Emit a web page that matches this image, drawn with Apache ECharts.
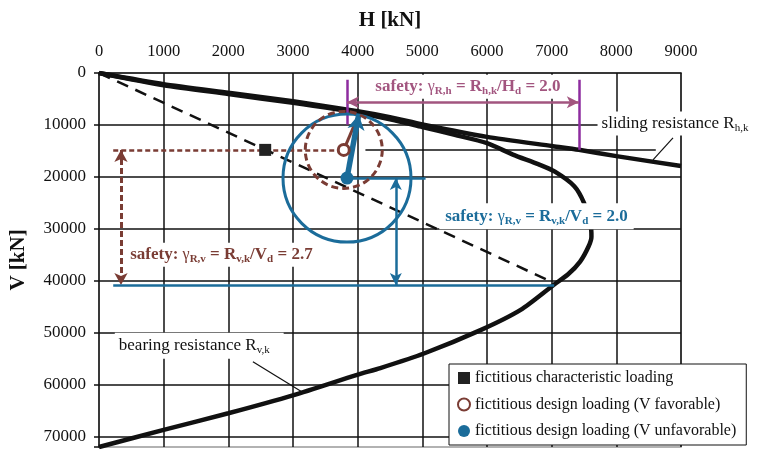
<!DOCTYPE html>
<html><head><meta charset="utf-8">
<script src="https://cdn.jsdelivr.net/npm/echarts@6/dist/echarts.min.js"></script>
<style>html,body{margin:0;padding:0;background:#fff}#c{width:771px;height:461px}</style>
</head><body><div id="c"></div>
<script>
// ---- data ----
const hTicks = [0,1000,2000,3000,4000,5000,6000,7000,8000,9000];
const vTicks = [0,10000,20000,30000,40000,50000,60000,70000];
const slidingH = [0,1000,2000,3000,4000,4500,5000,6000,7000,7420,8000,9000];
const slidingV = [0,2150,3800,5450,7350,8500,9900,12300,14050,14780,16000,17900];
const bearingH = [0,1000,2000,3000,4000,4500,5000,5500,6000,6400,6800,7050,7350,7500,7600,7615,7570,7440,7250,7030,6520,5900,5025,4350,3990,3010,2000,1000,0];
const bearingV = [0,2350,4050,5750,7650,8900,10400,11900,13500,15700,17600,19000,21800,25000,29000,31500,33400,36300,38800,40800,45600,49500,54000,56800,58100,62000,65500,68700,72000];
const dashedH = [0,6990];
const dashedV = [0,40150];
const charLoad = [2570,14800];     // fictitious characteristic loading
const favLoad = [3785,14800];      // design loading (V favorable)
const unfavLoad = [3835,20230];    // design loading (V unfavorable)
const resultTip = [4016,8030];
const Rhk = 7420;                  // sliding resistance at V_k
const Rvk = 40800;                 // bearing resistance

const SERIF = 'Liberation Serif';
const BLUE = '#1b6c9a', BROWN = '#7a3c34', MAUVE = '#a2557f', PURPLE = '#8e2c9f';

const zip = (a,b) => a.map((v,i)=>[v,b[i]]);

function seg(p1,p2,color,width,type,s1,s2,ss,z){
  return {type:'line', data:[], z:z||5, animation:false, silent:true,
    markLine:{silent:true, animation:false, symbol:[s1||'none',s2||'none'], symbolSize:ss||10, label:{show:false},
      lineStyle:{color:color,width:width,type:type||'solid', opacity:1}, emphasis:{disabled:true},
      data:[[{coord:p1},{coord:p2}]]}};
}

const chart = echarts.init(document.getElementById('c'), null, {renderer:'canvas'});

const sub = {fontFamily:SERIF, fontSize:11, fontWeight:'bold', verticalAlign:'bottom', lineHeight:15};
function rich(color, bold){
  return {
    b:{fontFamily:SERIF, fontSize:17, fontWeight:bold?'bold':'normal', color:color, lineHeight:20},
    g:{fontFamily:SERIF, fontSize:16, color:color, lineHeight:20},
    s:Object.assign({}, sub, {color:color, fontWeight:bold?'bold':'normal'})
  };
}

const labelItems = [
  {value:[5706,2640], label:{formatter:'{b|safety: }{g|γ}{s|R,h}{b| = R}{s|h,k}{b|/H}{s|d}{b| = 2.0}', rich:rich(MAUVE,true), backgroundColor:'#fff', padding:[2,4,2,4]}},
  {value:[1893,35000], label:{formatter:'{b|safety: }{g|γ}{s|R,v}{b| = R}{s|v,k}{b|/V}{s|d}{b| = 2.7}', rich:rich(BROWN,true), backgroundColor:'#fff', padding:[2,4,2,4]}},
  {value:[6765,27600], label:{formatter:'{b|safety: }{g|γ}{s|R,v}{b| = R}{s|v,k}{b|/V}{s|d}{b| = 2.0}', rich:rich(BLUE,true), backgroundColor:'#fff', padding:[3,6,3,6]}},
  {value:[8907,9700], label:{formatter:'{b|sliding resistance R}{s|h,k}', rich:rich('#111',false), backgroundColor:'#fff', padding:[2,4,2,4]}},
  {value:[1550,52500], label:{formatter:'{b|bearing resistance R}{s|v,k}', rich:rich('#111',false), backgroundColor:'#fff', padding:[3,14,3,4]}}
];

const option = {
  animation:false,
  backgroundColor:'#fff',
  grid:{left:99, top:73, right:90, bottom:14, outerBoundsMode:'none', containLabel:false, show:true, borderColor:'#999', borderWidth:1.5, backgroundColor:'#fff'},
  xAxis:{type:'value', position:'top', min:0, max:9000, interval:1000,
    name:'H [kN]', nameLocation:'middle', nameGap:42,
    nameTextStyle:{fontFamily:SERIF, fontSize:21, fontWeight:'bold', color:'#111'},
    axisLine:{show:true, onZero:false, lineStyle:{color:'#111', width:1.5}},
    axisTick:{show:false},
    axisLabel:{fontFamily:SERIF, fontSize:16.5, color:'#111', margin:13,
      formatter:v=>hTicks.includes(v)?String(v):''},
    splitLine:{show:true, showMinLine:false, showMaxLine:true, lineStyle:{color:'#111', width:1.5}}
  },
  yAxis:{type:'value', inverse:true, min:0, max:72000, interval:10000,
    name:'V [kN]', nameLocation:'middle', nameGap:70,
    nameTextStyle:{fontFamily:SERIF, fontSize:21, fontWeight:'bold', color:'#111'},
    axisLine:{show:true, onZero:false, lineStyle:{color:'#111', width:1.5}},
    axisTick:{show:true, length:5, lineStyle:{color:'#111', width:1.5}},
    axisLabel:{fontFamily:SERIF, fontSize:17, color:'#111', margin:13,
      formatter:v=>vTicks.includes(v)?String(v):''},
    splitLine:{show:true, showMinLine:false, showMaxLine:false, lineStyle:{color:'#111', width:1.5}}
  },
  legend:{orient:'vertical', left:449, top:364, padding:[6,10,6,8], itemGap:10.5, itemWidth:12, itemHeight:12,
    borderColor:'#111', borderWidth:1, backgroundColor:'#fff', z:20,
    textStyle:{fontFamily:SERIF, fontSize:16, color:'#111', padding:[0,0,0,0]},
    data:['fictitious characteristic loading','fictitious design loading (V favorable)','fictitious design loading (V unfavorable)']},
  series:[
    {type:'line', name:'sliding', data:zip(slidingH,slidingV), symbol:'none', smooth:0.2, z:3,
      lineStyle:{color:'#111', width:4.5}},
    {type:'line', name:'bearing', data:zip(bearingH,bearingV), symbol:'none', smooth:0.25, z:3,
      lineStyle:{color:'#111', width:4.5}},
    {type:'line', name:'dashed', data:zip(dashedH,dashedV), symbol:'none', z:3,
      lineStyle:{color:'#111', width:2.5, type:[12,8]}},
    // reference level line at V_k
    seg([4120,favLoad[1]],[8610,favLoad[1]],'#111',1.5,'solid',null,null,null,2),
    // purple sliding safety
    seg([favLoad[0]+50,1300],[favLoad[0]+50,9950],PURPLE,2.5,'solid',null,null,null,6),
    seg([Rhk,1300],[Rhk,slidingV[9]],PURPLE,2.5,'solid',null,null,null,6),
    seg([favLoad[0]+50,5650],[Rhk,5650],MAUVE,2.5,'solid','arrow','arrow',[9,12],6),
    // brown bearing safety (V favorable)
    seg([220,favLoad[1]],favLoad,BROWN,2.5,[5,3],null,null,null,6),
    seg([340,favLoad[1]],[340,Rvk],BROWN,3,[6,3],'arrow','arrow',[10,12],6),
    seg(favLoad,resultTip,BROWN,3,'solid',null,null,null,6),
    // blue bearing safety (V unfavorable)
    seg(unfavLoad,[5050,unfavLoad[1]],BLUE,2.5,'solid',null,null,null,6),
    seg([4590,unfavLoad[1]],[4590,Rvk],BLUE,2.5,'solid','arrow','arrow',[9,12],6),
    seg([220,Rvk],[7040,Rvk],BLUE,2.5,'solid',null,null,null,6),
    seg(unfavLoad,resultTip,BLUE,5.5,'solid','none','arrow',[13,15],7),
    // leader lines
    seg([8876,12500],[8567,16740],'#111',1.2,'solid',null,null,null,6),
    seg([2380,55600],[3135,61350],'#111',1.2,'solid',null,null,null,6),
    // big circles
    {type:'scatter', name:'circleBlue', data:[unfavLoad], symbol:'circle', symbolSize:128, z:6, silent:true,
      itemStyle:{color:'rgba(0,0,0,0)', borderColor:BLUE, borderWidth:3, opacity:1}},
    {type:'scatter', name:'circleBrown', data:[favLoad], symbol:'circle', symbolSize:77, z:6, silent:true,
      itemStyle:{color:'rgba(0,0,0,0)', borderColor:BROWN, borderWidth:3, borderType:[7,4], opacity:1}},
    // loads
    {type:'scatter', name:'fictitious characteristic loading', data:[charLoad], symbol:'rect', symbolSize:12, z:8,
      itemStyle:{color:'#222', opacity:1}},
    {type:'scatter', name:'fictitious design loading (V favorable)', data:[favLoad], symbol:'circle', symbolSize:11, z:8,
      itemStyle:{color:'#fff', borderColor:BROWN, borderWidth:3, opacity:1}},
    {type:'scatter', name:'fictitious design loading (V unfavorable)', data:[unfavLoad], symbol:'circle', symbolSize:13, z:8,
      itemStyle:{color:BLUE, opacity:1}},
    // text labels
    {type:'scatter', name:'labels', data:labelItems, symbolSize:0, z:10, silent:true,
      itemStyle:{opacity:1},
      label:{show:true, position:'inside', align:'center', verticalAlign:'middle'}}
  ]
};
chart.setOption(option);
</script></body></html>
